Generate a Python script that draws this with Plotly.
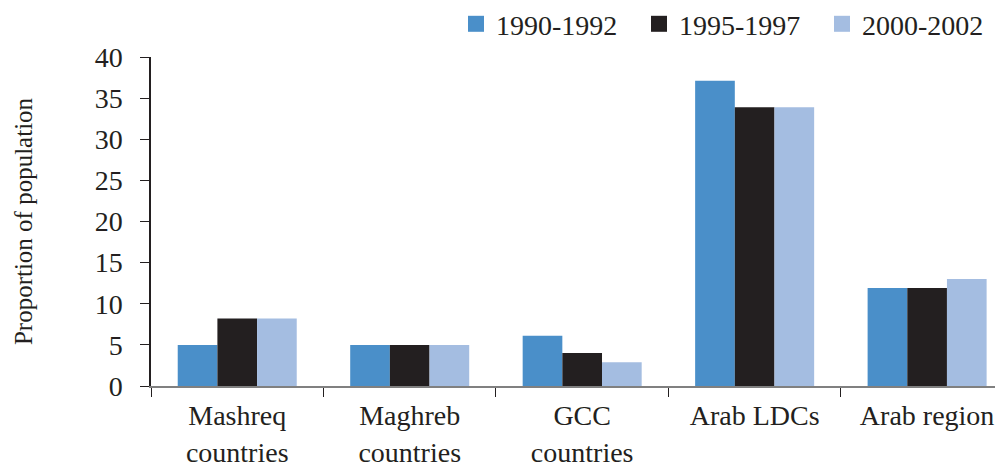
import plotly.graph_objects as go

categories = ["Mashreq<br>countries", "Maghreb<br>countries", "GCC<br>countries", "Arab LDCs", "Arab region"]
series_names = ["1990-1992", "1995-1997", "2000-2002"]
v_1990 = [5.0, 5.0, 6.1, 37.1, 11.9]
v_1995 = [8.2, 5.0, 4.0, 33.9, 11.9]
v_2000 = [8.2, 5.0, 2.9, 33.9, 13.0]
colors = ["#4A8FC9", "#231F20", "#A4BDE1"]

font = "Liberation Serif, Times New Roman, serif"

fig = go.Figure()
for name, vals, col in zip(series_names, [v_1990, v_1995, v_2000], colors):
    fig.add_trace(go.Bar(x=categories, y=vals, name=name, marker_color=col,
                         marker_line_width=0, showlegend=False))
    # legend-only entry with a larger square swatch
    fig.add_trace(go.Scatter(x=[None], y=[None], mode="markers", name=name,
                             marker=dict(symbol="square", size=16, color=col)))

# page body adds an 8px margin, so the figure is sized to fit the window
fig.update_layout(
    width=995, height=461,
    margin=dict(l=143, r=0, t=49, b=83, autoexpand=False),
    paper_bgcolor="white", plot_bgcolor="white",
    font=dict(family=font, size=28, color="#231F20"),
    barmode="group", bargap=0.31, bargroupgap=0,
    legend=dict(orientation="h", x=0.358, xanchor="left", y=1.1, yanchor="middle",
                font=dict(size=28), itemwidth=30, tracegroupgap=0,
                entrywidth=138, entrywidthmode="pixels", bgcolor="rgba(0,0,0,0)"),
)
fig.update_xaxes(type="category", categoryorder="array", categoryarray=categories,
                 range=[-0.5, 4.44], tickson="boundaries", ticks="outside", ticklen=9,
                 tickcolor="#231F20", showline=True, linecolor="#808080", linewidth=1.5,
                 showgrid=False, tickfont=dict(size=28), ticklabelstandoff=4, automargin=False)
fig.update_yaxes(range=[0, 40], dtick=5, ticks="outside", ticklen=9, tickcolor="#231F20",
                 showline=True, linecolor="#231F20", linewidth=1.5, showgrid=False,
                 zeroline=False, tickfont=dict(size=28), ticklabelstandoff=12, automargin=False,
                 title=dict(text="Proportion of population", font=dict(size=25), standoff=55))

fig.write_html("out.html")
